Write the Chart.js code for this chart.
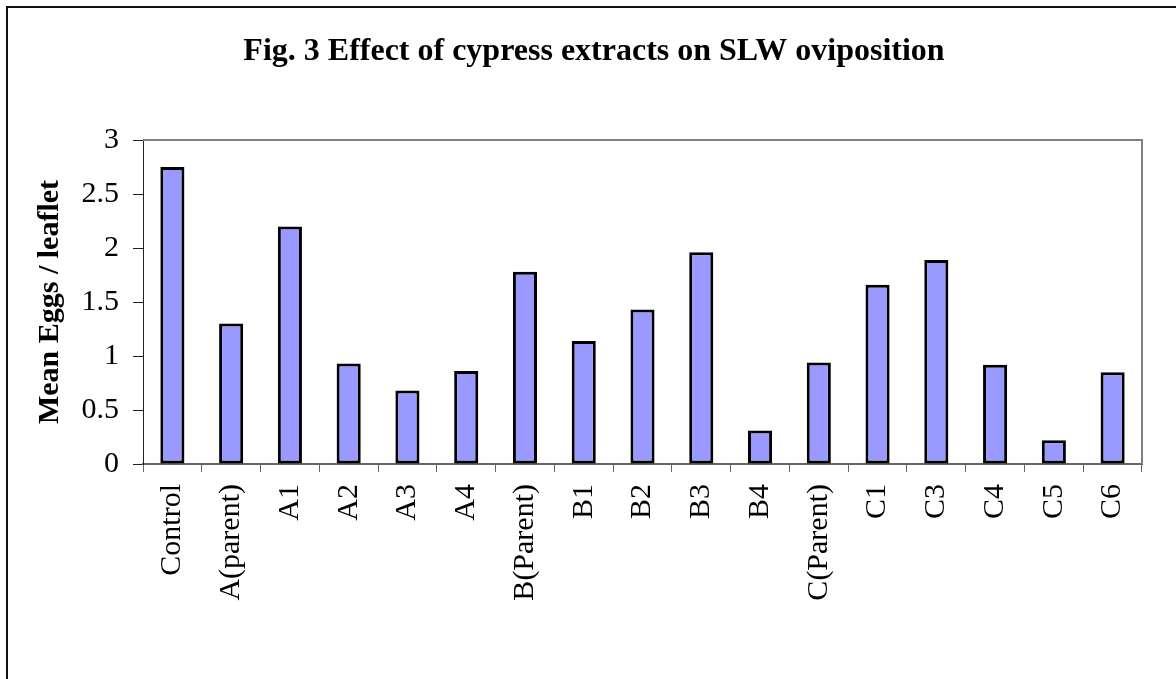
<!DOCTYPE html>
<html>
<head>
<meta charset="utf-8">
<script src="https://cdn.jsdelivr.net/npm/chart.js@4"></script>
<style>
  html, body { margin: 0; padding: 0; background: #fff; overflow: hidden; }
  #wrap { position: relative; width: 1176px; height: 679px; }
  #frame { position: absolute; left: 6px; top: 6px; right: -10px; bottom: -10px; border: 2px solid #111; pointer-events: none; }
</style>
</head>
<body>
<div id="wrap">
  <canvas id="barChart"></canvas>
  <div id="frame"></div>
</div>
<script>
const categories = ['Control', 'A(parent)', 'A1', 'A2', 'A3', 'A4', 'B(Parent)', 'B1', 'B2', 'B3', 'B4', 'C(Parent)', 'C1', 'C3', 'C4', 'C5', 'C6'];
const meanEggs = [2.75, 1.30, 2.20, 0.93, 0.68, 0.86, 1.78, 1.14, 1.43, 1.96, 0.31, 0.94, 1.66, 1.89, 0.92, 0.22, 0.85];
const yTicks = [0, 0.5, 1, 1.5, 2, 2.5, 3];

const serif = "'Liberation Serif', 'Times New Roman', serif";

// gray box round the plot area, like the Excel original
const plotBorder = {
  id: 'plotBorder',
  afterDraw(chart) {
    const { ctx, chartArea: a } = chart;
    ctx.save();
    ctx.strokeStyle = '#808080';
    ctx.lineWidth = 2;
    ctx.beginPath();
    ctx.moveTo(a.left, a.top);
    ctx.lineTo(a.right, a.top);
    ctx.lineTo(a.right, a.bottom);
    ctx.stroke();
    ctx.restore();
  }
};

new Chart(document.getElementById('barChart'), {
  type: 'bar',
  data: {
    labels: categories,
    datasets: [{
      data: meanEggs,
      backgroundColor: '#9999ff',
      borderColor: '#000',
      borderWidth: 3,
      borderSkipped: false,
      barPercentage: 0.41,
      categoryPercentage: 1
    }]
  },
  options: {
    responsive: true,
    maintainAspectRatio: false,
    animation: false,
    layout: { autoPadding: false, padding: { left: 46, right: 34, top: 0, bottom: 0 } },
    plugins: {
      legend: { display: false },
      tooltip: { enabled: false },
      title: {
        display: true,
        text: 'Fig. 3 Effect of cypress extracts on SLW oviposition',
        color: '#000',
        font: { family: serif, size: 32, weight: 'bold' },
        padding: { top: 32.8, bottom: 68.8 }
      }
    },
    scales: {
      x: {
        grid: { drawOnChartArea: false, drawTicks: true, tickLength: 8, color: '#666', offset: true },
        border: { color: '#666', width: 2 },
        ticks: {
          color: '#000',
          font: { family: serif, size: 30 },
          minRotation: 90,
          maxRotation: 90,
          padding: 12,
          autoSkip: false
        },
        afterFit(scale) { scale.height = 215; }
      },
      y: {
        min: 0,
        max: 3,
        afterBuildTicks(scale) { scale.ticks = yTicks.map(v => ({ value: v })); },
        grid: { drawOnChartArea: false, drawTicks: true, tickLength: 10, color: '#222' },
        border: { color: '#222', width: 1 },
        ticks: {
          color: '#000',
          font: { family: serif, size: 30 },
          padding: 14,
          callback: (v) => String(v)
        },
        title: {
          display: true,
          text: 'Mean Eggs / leaflet',
          color: '#000',
          font: { family: serif, size: 30, weight: 'bold' },
          padding: { top: -14, bottom: 0 }
        },
        afterFit(scale) { scale.width = 97; }
      }
    }
  },
  plugins: [plotBorder]
});
</script>
</body>
</html>
